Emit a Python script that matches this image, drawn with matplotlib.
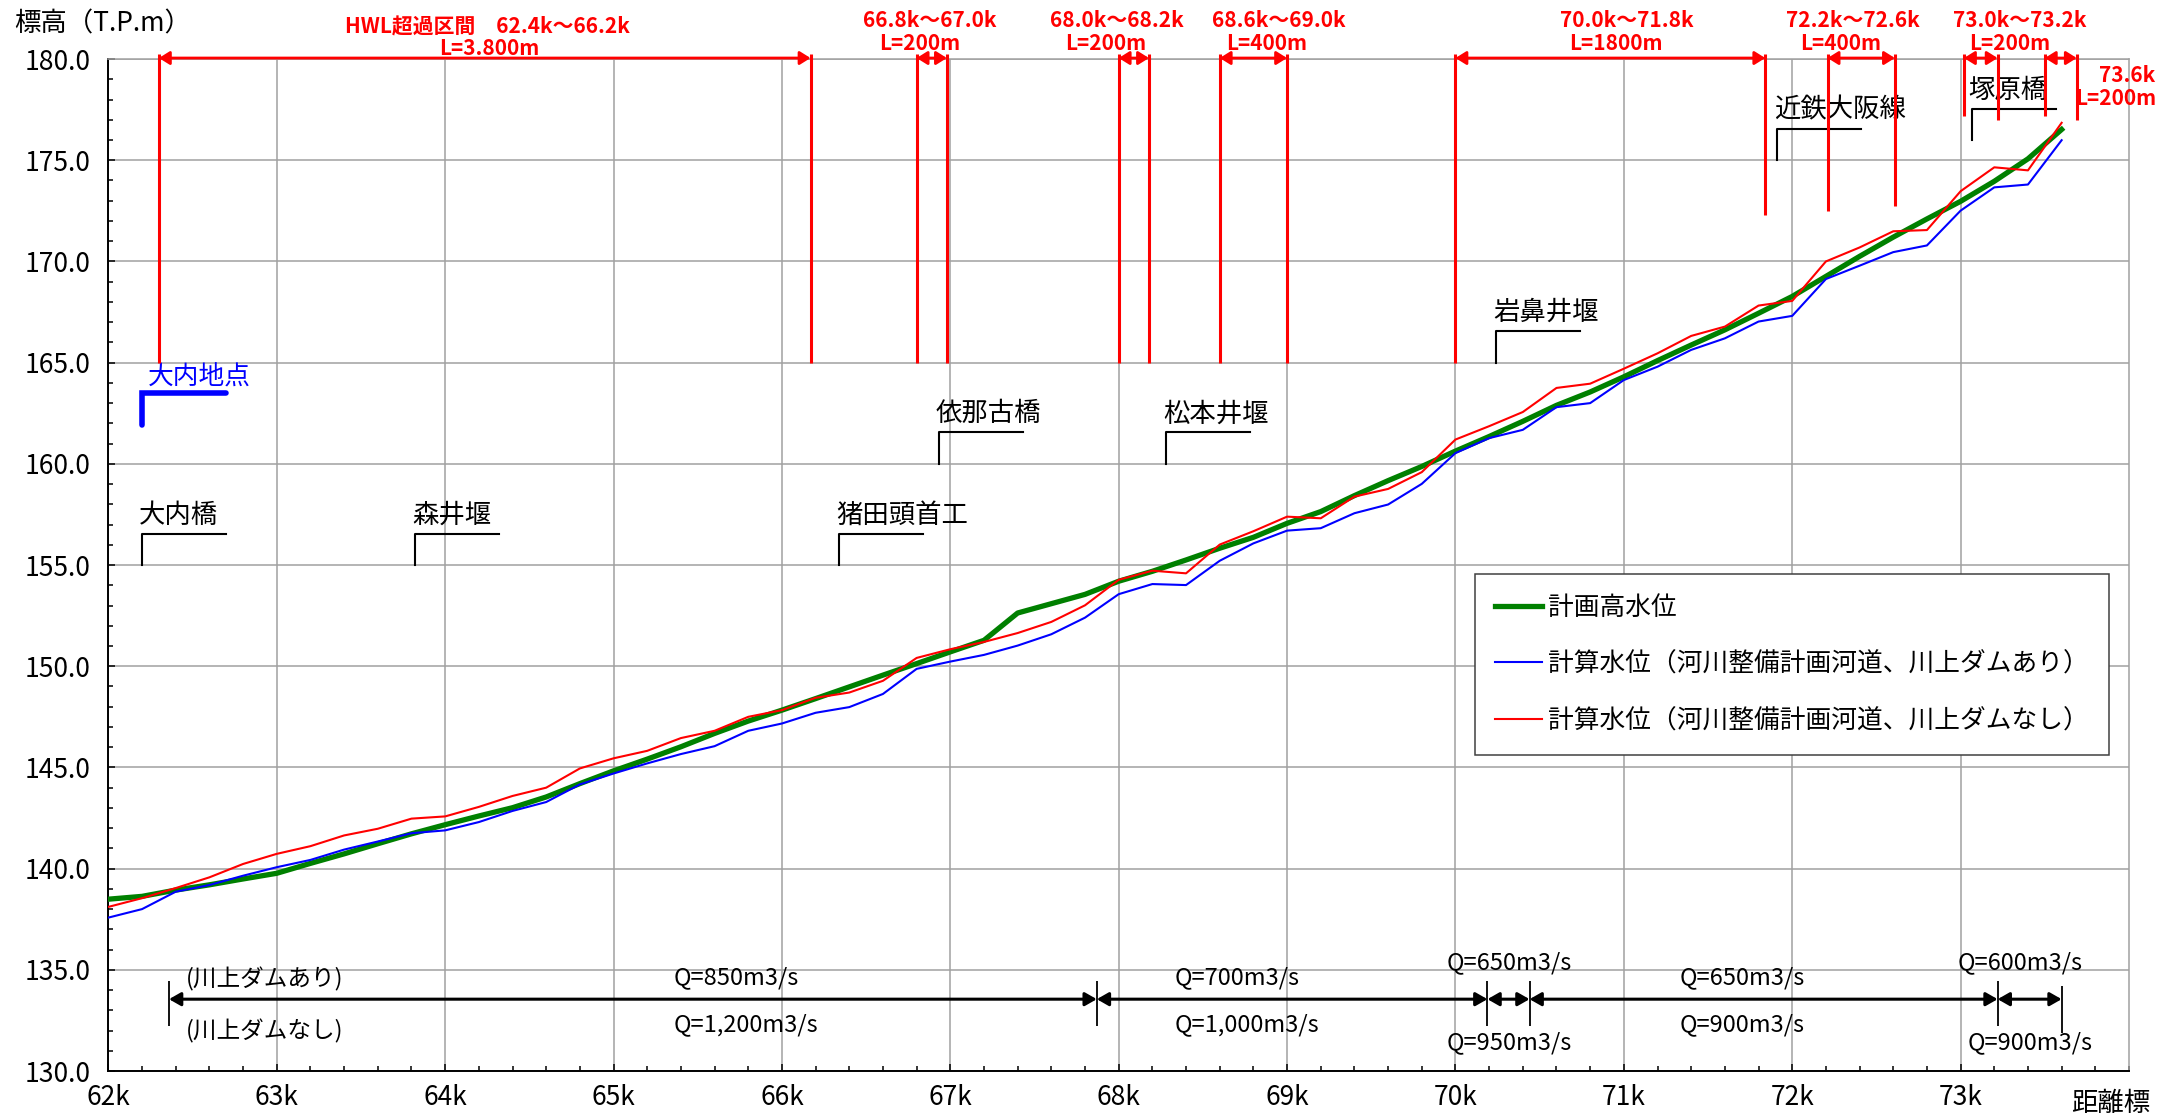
import matplotlib.pyplot as plt
from matplotlib.ticker import MultipleLocator, FuncFormatter

plt.rcParams['font.family'] = ['Noto Sans CJK JP', 'DejaVu Sans']

# 距離標 (k)
distance_k = [62.0, 62.2, 62.4, 62.6, 62.8, 63.0, 63.2, 63.4, 63.6, 63.8,
              64.0, 64.2, 64.4, 64.6, 64.8, 65.0, 65.2, 65.4, 65.6, 65.8,
              66.0, 66.2, 66.4, 66.6, 66.8, 67.0, 67.2, 67.4, 67.6, 67.8,
              68.0, 68.2, 68.4, 68.6, 68.8, 69.0, 69.2, 69.4, 69.6, 69.8,
              70.0, 70.2, 70.4, 70.6, 70.8, 71.0, 71.2, 71.4, 71.6, 71.8,
              72.0, 72.2, 72.4, 72.6, 72.8, 73.0, 73.2, 73.4, 73.6]

# 計画高水位
hwl_plan = [138.49, 138.63, 138.94, 139.20, 139.49, 139.77, 140.26, 140.73, 141.23, 141.72,
            142.17, 142.60, 143.01, 143.54, 144.20, 144.83, 145.41, 146.02, 146.68, 147.29,
            147.83, 148.40, 148.98, 149.56, 150.13, 150.71, 151.28, 152.63, 153.09, 153.55,
            154.20, 154.69, 155.25, 155.83, 156.37, 157.06, 157.64, 158.43, 159.17, 159.87,
            160.63, 161.35, 162.10, 162.89, 163.55, 164.30, 165.10, 165.87, 166.62, 167.44,
            168.27, 169.26, 170.25, 171.20, 172.10, 172.97, 173.96, 175.07, 176.52]

# 計算水位（川上ダムあり）
wl_with_dam = [137.58, 138.00, 138.86, 139.19, 139.65, 140.07, 140.43, 140.94, 141.34, 141.75,
               141.89, 142.30, 142.85, 143.29, 144.16, 144.70, 145.20, 145.66, 146.05, 146.81,
               147.17, 147.70, 147.98, 148.63, 149.87, 150.23, 150.56, 151.02, 151.58, 152.40,
               153.56, 154.06, 154.01, 155.21, 156.07, 156.70, 156.82, 157.56, 157.99, 159.01,
               160.53, 161.27, 161.68, 162.80, 163.00, 164.14, 164.80, 165.63, 166.20, 167.03,
               167.31, 169.13, 169.79, 170.46, 170.79, 172.51, 173.66, 173.80, 175.99]

# 計算水位（川上ダムなし）
wl_without_dam = [138.11, 138.54, 139.04, 139.57, 140.23, 140.73, 141.11, 141.64, 141.97, 142.47,
                  142.58, 143.05, 143.59, 144.00, 144.95, 145.45, 145.82, 146.45, 146.81, 147.50,
                  147.83, 148.44, 148.70, 149.28, 150.41, 150.84, 151.20, 151.64, 152.19, 153.01,
                  154.27, 154.72, 154.59, 156.01, 156.67, 157.39, 157.31, 158.38, 158.76, 159.59,
                  161.20, 161.86, 162.56, 163.75, 163.96, 164.70, 165.46, 166.32, 166.78, 167.82,
                  168.05, 170.00, 170.69, 171.49, 171.55, 173.47, 174.65, 174.50, 176.85]

series_labels = ["計画高水位",
                 "計算水位（河川整備計画河道、川上ダムあり）",
                 "計算水位（河川整備計画河道、川上ダムなし）"]

# 構造物
landmark_names = ["大内橋", "森井堰", "猪田頭首工", "依那古橋", "松本井堰", "岩鼻井堰", "近鉄大阪線", "塚原橋"]
landmark_km = [62.2, 63.82, 66.34, 66.93, 68.28, 70.24, 71.91, 73.065]
landmark_level = [155, 155, 155, 160, 160, 165, 175, 176]

# HWL超過区間
hwl_section_start = [62.3, 66.8, 68.0, 68.6, 70.0, 72.21, 73.02, 73.5]
hwl_section_end = [66.17, 66.98, 68.18, 69.0, 71.84, 72.61, 73.22, 73.69]
hwl_range_labels = ["HWL超過区間　62.4k～66.2k", "66.8k～67.0k", "68.0k～68.2k", "68.6k～69.0k",
                    "70.0k～71.8k", "72.2k～72.6k", "73.0k～73.2k", "73.6k"]
hwl_length_labels = ["L=3.800m", "L=200m", "L=200m", "L=400m",
                     "L=1800m", "L=400m", "L=200m", "L=200m"]
# 区間境界の縦線 (位置, 下端標高)
hwl_marks_km = [62.3, 66.17, 66.8, 66.98, 68.0, 68.18, 68.6, 69.0,
                70.0, 71.84, 72.21, 72.61, 73.02, 73.22, 73.5, 73.69]
hwl_marks_bottom = [165, 165, 165, 165, 165, 165, 165, 165,
                    165, 172.3, 172.5, 172.75, 177.2, 177.0, 177.2, 177.0]

# 流量配分
q_bounds_km = [62.36, 67.87, 70.19, 70.44, 73.22, 73.6]
q_with_dam = ["Q=850m3/s", "Q=700m3/s", "Q=650m3/s", "Q=650m3/s", "Q=600m3/s"]
q_without_dam = ["Q=1,200m3/s", "Q=1,000m3/s", "Q=950m3/s", "Q=900m3/s", "Q=900m3/s"]

# label placement (layout only)
range_label_x = [64.25, 66.88, 67.99, 68.95, 71.02, 72.36, 73.35, 73.99]
length_label_x = [64.26, 66.82, 67.92, 68.88, 70.95, 72.29, 73.29, 73.92]
q_label_x = [65.356, 68.335, 69.95, 71.33, 72.98]
q_label_x_low = [65.356, 68.335, 69.95, 71.33, 73.04]

fig = plt.figure(figsize=(21.72, 11.16), dpi=100)
ax = fig.add_axes([0.0499, 0.0403, 0.9303, 0.9068])

l1, = ax.plot(distance_k, hwl_plan, color='#008000', lw=3.8, zorder=3)
l2, = ax.plot(distance_k, wl_with_dam, color='#0000ff', lw=1.5, zorder=4)
l3, = ax.plot(distance_k, wl_without_dam, color='#ff0000', lw=1.5, zorder=5)

ax.set_xlim(62, 74)
ax.set_ylim(130, 180)
ax.set_xticks(range(62, 74))
ax.xaxis.set_minor_locator(MultipleLocator(0.2))
ax.xaxis.set_major_formatter(FuncFormatter(lambda v, p: f"{int(round(v))}k"))
ax.yaxis.set_major_locator(MultipleLocator(5))
ax.yaxis.set_minor_locator(MultipleLocator(1))
ax.yaxis.set_major_formatter(FuncFormatter(lambda v, p: f"{v:.1f}"))

ax.grid(which='major', color='#a0a0a0', lw=1.1)
ax.set_axisbelow(True)
ax.tick_params(which='both', direction='in', color='black', width=1.1)
ax.tick_params(which='major', length=5, labelsize=19)
ax.tick_params(which='minor', length=3.5)
ax.tick_params(axis='x', pad=9)
ax.tick_params(axis='y', pad=13)
for side in ['top', 'right']:
    ax.spines[side].set_color('#a0a0a0')
    ax.spines[side].set_linewidth(1.1)
for side in ['left', 'bottom']:
    ax.spines[side].set_color('black')
    ax.spines[side].set_linewidth(1.4)

fig.text(14 / 2172, 1 - 23.5 / 1116, "標高（T.P.m）", fontsize=19, ha='left', va='center')
ax.text(73.89, 128.42, "距離標", fontsize=19, ha='center', va='center')

# 構造物の引出線
for name, km, lev in zip(landmark_names, landmark_km, landmark_level):
    top = lev + 1.55
    ax.plot([km, km, km + 0.5], [lev, top, top], color='black', lw=1.5, zorder=2)
    ax.annotate(name, (km, top), xytext=(-2, 8), textcoords='offset points',
                fontsize=19, ha='left', va='baseline')

# 大内地点
ax.plot([62.2, 62.2, 62.7], [161.9, 163.5, 163.5], color='#0000ff', lw=4,
        solid_capstyle='round', solid_joinstyle='miter', zorder=2)
ax.annotate("大内地点", (62.2, 163.5), xytext=(4, 6), textcoords='offset points',
            fontsize=18.5, color='#0000ff', ha='left', va='baseline')

# HWL超過区間
ax.vlines(hwl_marks_km, hwl_marks_bottom, 180.25, colors='red', lw=2.2, clip_on=False, zorder=6)
for i, (a, b) in enumerate(zip(hwl_section_start, hwl_section_end)):
    ax.annotate('', xy=(b, 180.05), xytext=(a, 180.05),
                arrowprops=dict(arrowstyle='<|-|>,head_length=0.32,head_width=0.2',
                                color='red', lw=2, shrinkA=0, shrinkB=0,
                                mutation_scale=20, clip_on=False),
                annotation_clip=False)
    if i == 0:
        y1, y2 = 181.6, 180.53
    elif i == len(hwl_section_start) - 1:
        y1, y2 = 179.2, 178.07
    else:
        y1, y2 = 181.9, 180.78
    ax.text(range_label_x[i], y1, hwl_range_labels[i], color='red', fontsize=15,
            fontweight='bold', ha='center', va='center', clip_on=False)
    ax.text(length_label_x[i], y2, hwl_length_labels[i], color='red', fontsize=15,
            fontweight='bold', ha='center', va='center', clip_on=False)

# 流量配分
ax.vlines(q_bounds_km[:-1], 132.2, 134.45, colors='black', lw=1.3)
ax.vlines(q_bounds_km[-1:], 131.9, 134.2, colors='black', lw=1.3)
for i in range(len(q_with_dam)):
    a, b = q_bounds_km[i], q_bounds_km[i + 1]
    ax.annotate('', xy=(b, 133.55), xytext=(a, 133.55),
                arrowprops=dict(arrowstyle='<|-|>,head_length=0.35,head_width=0.2',
                                color='black', lw=2.2, shrinkA=0, shrinkB=0,
                                mutation_scale=20))
    narrow = (b - a) < 0.5
    y_up, y_low = (135.35, 131.4) if narrow else (134.6, 132.3)
    ax.text(q_label_x[i], y_up, q_with_dam[i], fontsize=17, ha='left', va='center')
    ax.text(q_label_x_low[i], y_low, q_without_dam[i], fontsize=17, ha='left', va='center')

ax.text(62.46, 134.55, "(川上ダムあり)", fontsize=17, ha='left', va='center')
ax.text(62.46, 131.97, "(川上ダムなし)", fontsize=17, ha='left', va='center')

leg = ax.legend([l1, l2, l3], series_labels, loc='upper left',
                bbox_to_anchor=(0.6763, 0.4911), borderaxespad=0, fontsize=18.5,
                fancybox=False, edgecolor='#404040', framealpha=1,
                handlelength=1.8, handletextpad=0.25, labelspacing=1.2, borderpad=0.8)
leg.get_frame().set_linewidth(1.1)

fig.savefig("out.png", dpi=100)
